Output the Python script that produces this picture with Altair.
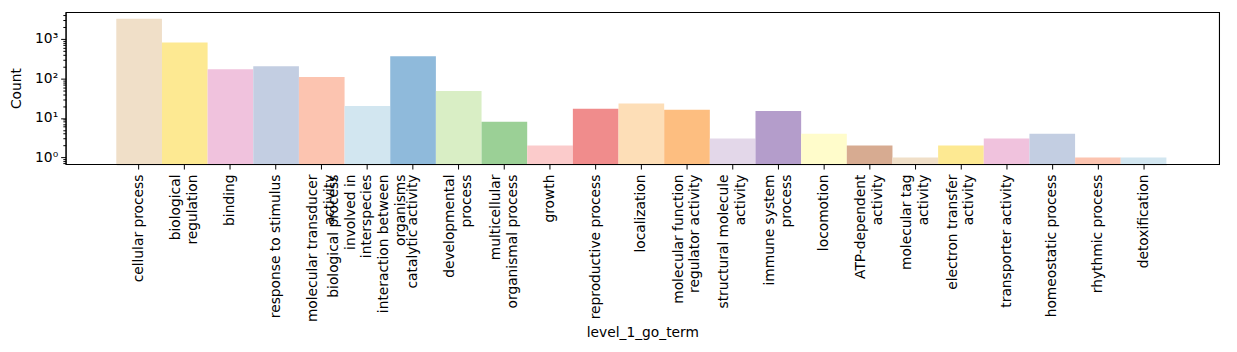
import altair as alt
import pandas as pd

categories = [
    "cellular process", "biological regulation", "binding", "response to stimulus",
    "molecular transducer activity",
    "biological process involved in interspecies interaction between organisms",
    "catalytic activity", "developmental process", "multicellular organismal process",
    "growth", "reproductive process", "localization",
    "molecular function regulator activity", "structural molecule activity",
    "immune system process", "locomotion", "ATP-dependent activity",
    "molecular tag activity", "electron transfer activity", "transporter activity",
    "homeostatic process", "rhythmic process", "detoxification",
]
tick_labels = [
    "cellular process", "biological|regulation", "binding", "response to stimulus",
    "molecular transducer|activity",
    "biological process|involved in|interspecies|interaction between|organisms",
    "catalytic activity", "developmental|process", "multicellular|organismal process",
    "growth", "reproductive process", "localization",
    "molecular function|regulator activity", "structural molecule|activity",
    "immune system|process", "locomotion", "ATP-dependent|activity",
    "molecular tag|activity", "electron transfer|activity", "transporter activity",
    "homeostatic process", "rhythmic process", "detoxification",
]
counts = [3230, 810, 170, 204, 108, 20, 362, 48, 8, 2, 17, 23, 16, 3, 15, 4, 2,
          1, 2, 3, 4, 1, 1]
colors = [
    "#f0dfc8", "#fde992", "#f0c2dd", "#c3cee2", "#fcc4b0", "#d2e6f0", "#8fbadb",
    "#d9eec5", "#9bd096", "#fbcbcb", "#f08c8c", "#fddeb7", "#fdbe80", "#e3d7e9",
    "#b49dcb", "#fffccb", "#d7ab91", "#f0dfc8", "#fde992", "#f0c2dd", "#c3cee2",
    "#fcc4b0", "#d2e6f0",
]
major_ticks = [1, 10, 100, 1000]
minor_ticks = [0.7, 0.8, 0.9, 2, 3, 4, 5, 6, 7, 8, 9, 20, 30, 40, 50, 60, 70, 80, 90,
               200, 300, 400, 500, 600, 700, 800, 900, 2000, 3000, 4000]
y_min, y_max = 0.68, 4750

df = pd.DataFrame({"category": categories, "tick": tick_labels, "n": counts})

W, H = 1161, 153
FONT = "DejaVu Sans"
FS = 13.9
LH = 16.7
nlines = "length(split(datum.value, '|'))"

xscale = alt.Scale(paddingInner=0, paddingOuter=0, range=[51, 1108])
yscale = alt.Scale(type="log", domain=[y_min, y_max], nice=False)

bars = alt.Chart(df).mark_bar(strokeWidth=0).encode(
    x=alt.X("tick:N", sort=tick_labels, scale=xscale,
            axis=alt.Axis(title="level_1_go_term", labelAngle=-90, labelAlign="right",
                          labelBaseline="middle", labelExpr="split(datum.label, '|')",
                          labelLineHeight=LH, labelOverlap=False, labelPadding=5,
                          labelOffset={"condition": [
                              {"test": nlines + " == 5", "value": -2 * LH},
                              {"test": nlines + " == 2", "value": -0.5 * LH}],
                              "value": 0},
                          ticks=True, tickSize=5, titleBaseline="middle", titleY=170,
                          titleX=W / 2)),
    y=alt.Y("n:Q", scale=yscale,
            axis=alt.Axis(title="Count", values=major_ticks,
                          labelExpr=("datum.value == 1 ? '10⁰' : datum.value == 10 ? '10¹' : "
                                     "datum.value == 100 ? '10²' : '10³'"),
                          ticks=True, tickSize=5, labelPadding=3,
                          titleAngle=-90, titleAlign="center", titleBaseline="middle",
                          titleX=-49, titleY=H / 2)),
    y2=alt.datum(y_min),
    color=alt.Color("tick:N", scale=alt.Scale(domain=tick_labels, range=colors),
                    legend=None),
)

minor = alt.Chart(df).mark_tick(opacity=0).encode(
    y=alt.Y("n:Q", scale=yscale,
            axis=alt.Axis(title=None, orient="left", values=minor_ticks, labels=False,
                          ticks=True, tickSize=2.8, domain=False)),
)

chart = alt.layer(bars, minor).resolve_axis(y="independent").properties(
    width=W, height=H,
    autosize=alt.AutoSizeParams(type="none"),
    padding={"left": 58, "top": 3, "right": 10, "bottom": 180},
).configure_axis(
    grid=False, tickColor="black", domainColor="black", labelColor="black",
    titleColor="black", labelFont=FONT, titleFont=FONT, labelFontSize=FS,
    titleFontSize=FS, titleFontWeight="normal", tickWidth=1, domainWidth=1,
).configure_view(stroke="black", strokeWidth=1.1)

chart.save("out.html", embed_options={"renderer": "svg", "actions": False})
